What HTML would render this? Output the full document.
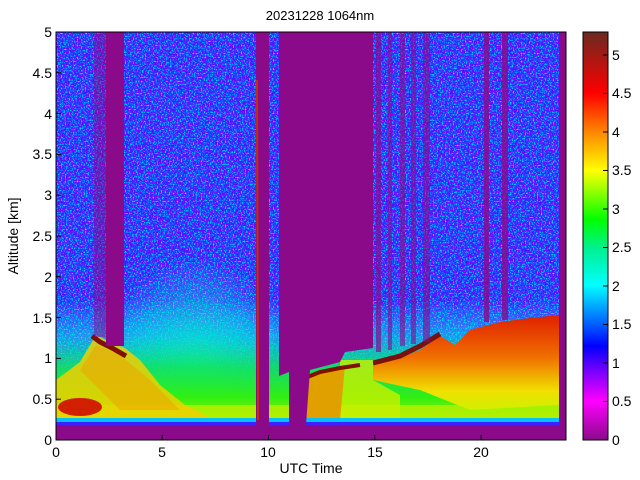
<!DOCTYPE html>
<html><head><meta charset="utf-8"><style>
body{margin:0;background:#fff;}
svg{display:block;font-family:"Liberation Sans",sans-serif;}
</style></head><body>
<svg width="640" height="480" viewBox="0 0 640 480">
<defs>
<filter id="nz" x="0" y="0" width="100%" height="100%" color-interpolation-filters="sRGB">
<feTurbulence type="fractalNoise" baseFrequency="0.75" numOctaves="1" seed="3" result="t"/>
<feColorMatrix in="t" type="matrix" values="-2 0 0 0 1.2  3.5 0 0 0 -1.55  0 0 0 0 1  0 0 0 0 1"/>
</filter>
<linearGradient id="bl" x1="0" y1="0" x2="0" y2="1">
<stop offset="0" stop-color="#00ffff" stop-opacity="0"/>
<stop offset="0.3" stop-color="#00f0e0" stop-opacity="0.55"/>
<stop offset="0.55" stop-color="#10e860" stop-opacity="0.9"/>
<stop offset="0.8" stop-color="#30f010"/>
<stop offset="1" stop-color="#b0f000"/>
</linearGradient>
<radialGradient id="gr" cx="0.5" cy="0.7" r="0.6">
<stop offset="0" stop-color="#10f0a0" stop-opacity="0.75"/>
<stop offset="0.6" stop-color="#00f0d0" stop-opacity="0.4"/>
<stop offset="1" stop-color="#00f0e0" stop-opacity="0"/>
</radialGradient>
<linearGradient id="rl" x1="0" y1="0" x2="0" y2="1">
<stop offset="0" stop-color="#e02000"/>
<stop offset="0.45" stop-color="#f07000"/>
<stop offset="0.8" stop-color="#f0e000"/>
<stop offset="1" stop-color="#d0f000"/>
</linearGradient>
<linearGradient id="cb" x1="0" y1="1" x2="0" y2="0">
<stop offset="0" stop-color="#8a0a8a"/>
<stop offset="0.095" stop-color="#ff00ff"/>
<stop offset="0.19" stop-color="#5000ff"/>
<stop offset="0.23" stop-color="#0000ff"/>
<stop offset="0.285" stop-color="#0060ff"/>
<stop offset="0.38" stop-color="#00ffff"/>
<stop offset="0.47" stop-color="#00f090"/>
<stop offset="0.54" stop-color="#00ff00"/>
<stop offset="0.66" stop-color="#ffff00"/>
<stop offset="0.76" stop-color="#ff8000"/>
<stop offset="0.85" stop-color="#ff0000"/>
<stop offset="1" stop-color="#6a2a20"/>
</linearGradient>
</defs>
<text x="320" y="20" font-size="13" text-anchor="middle">20231228 1064nm</text>
<rect x="56" y="32" width="510" height="408" fill="#8a0a8a"/>
<rect x="56" y="32" width="503" height="390" filter="url(#nz)"/>
<ellipse cx="195" cy="330" rx="80" ry="90" fill="url(#gr)"/>
<rect x="56" y="300" width="503" height="122" fill="url(#bl)"/>
<rect x="56" y="405" width="503" height="17" fill="#b8f000" opacity="0.8"/>
<polygon points="56,380 80,362 96,335 110,342 125,348 140,360 160,385 185,405 215,420 56,420" fill="#f0d000" opacity="0.85"/>
<polygon points="80,370 96,345 120,355 150,380 180,410 120,410" fill="#f0a000" opacity="0.5"/>
<ellipse cx="80" cy="407" rx="22" ry="9" fill="#d02000"/>
<polyline points="92,336 100,342 112,348 126,356" stroke="#801000" stroke-width="5" fill="none"/>
<polygon points="373,365 400,358 420,350 440,336 455,345 470,330 500,322 530,318 559,315 559,405 470,410 420,390 373,380" fill="url(#rl)"/>
<polyline points="373,363 400,356 420,346 440,334" stroke="#7a1010" stroke-width="5" fill="none"/>
<polygon points="340,360 373,360 373,380 400,395 400,420 340,420" fill="#c8f000" opacity="0.8"/>
<polygon points="300,378 345,365 340,420 300,420" fill="#e0a000"/>
<polyline points="305,378 320,372 340,368 360,365" stroke="#801000" stroke-width="4" fill="none"/>
<rect x="56" y="418" width="503" height="4" fill="#00c0ff"/>
<rect x="56" y="422" width="503" height="3" fill="#4020ff"/>
<rect x="56" y="425" width="510" height="15" fill="#8a0a8a"/>
<rect x="559" y="32" width="7" height="408" fill="#8a0a8a"/>
<polygon points="279,32 373,32 373,348 345,352 340,362 310,370 306,425 289,425 289,372 279,376" fill="#8a0a8a"/>
<rect x="256" y="32" width="13" height="393" fill="#8a0a8a"/>
<line x1="257" y1="80" x2="258" y2="420" stroke="#c03000" stroke-width="2"/>
<rect x="106" y="32" width="18" height="314" fill="#8a0a8a"/>
<rect x="94" y="32" width="12" height="305" fill="#8a0a8a" opacity="0.5"/>
<rect x="376" y="32" width="5" height="320" fill="#8a0a8a" opacity="0.7"/>
<rect x="388" y="32" width="4" height="318" fill="#8a0a8a" opacity="0.6"/>
<rect x="400" y="32" width="5" height="314" fill="#8a0a8a" opacity="0.6"/>
<rect x="411" y="32" width="5" height="312" fill="#8a0a8a" opacity="0.6"/>
<rect x="423" y="32" width="7" height="310" fill="#8a0a8a" opacity="0.6"/>
<rect x="484" y="32" width="5" height="290" fill="#8a0a8a" opacity="0.8"/>
<rect x="502" y="32" width="6" height="288" fill="#8a0a8a" opacity="0.8"/>
<rect x="56" y="32" width="510" height="408" fill="none" stroke="#000" stroke-width="1"/>
<g stroke="#000" stroke-width="1">
<line x1="162.25" y1="440" x2="162.25" y2="435"/><line x1="268.5" y1="440" x2="268.5" y2="435"/><line x1="374.75" y1="440" x2="374.75" y2="435"/><line x1="481" y1="440" x2="481" y2="435"/>
<line x1="56" y1="399.2" x2="61" y2="399.2"/><line x1="56" y1="358.4" x2="61" y2="358.4"/><line x1="56" y1="317.6" x2="61" y2="317.6"/><line x1="56" y1="276.8" x2="61" y2="276.8"/><line x1="56" y1="236" x2="61" y2="236"/><line x1="56" y1="195.2" x2="61" y2="195.2"/><line x1="56" y1="154.4" x2="61" y2="154.4"/><line x1="56" y1="113.6" x2="61" y2="113.6"/><line x1="56" y1="72.8" x2="61" y2="72.8"/>
</g>
<g font-size="14" text-anchor="middle">
<text x="56" y="457">0</text><text x="162" y="457">5</text><text x="268" y="457">10</text><text x="375" y="457">15</text><text x="481" y="457">20</text>
<text x="311" y="473">UTC Time</text>
</g>
<g font-size="14" text-anchor="end">
<text x="52" y="445">0</text><text x="52" y="404">0.5</text><text x="52" y="363">1</text><text x="52" y="323">1.5</text><text x="52" y="282">2</text><text x="52" y="241">2.5</text><text x="52" y="200">3</text><text x="52" y="159">3.5</text><text x="52" y="119">4</text><text x="52" y="78">4.5</text><text x="52" y="37">5</text>
</g>
<text transform="translate(18,236) rotate(-90)" font-size="14" text-anchor="middle">Altitude [km]</text>
<rect x="583" y="32" width="25" height="408" fill="url(#cb)" stroke="#000" stroke-width="1"/>
<g stroke="#000">
<line x1="603" y1="363" x2="608" y2="363"/><line x1="603" y1="286" x2="608" y2="286"/><line x1="603" y1="209" x2="608" y2="209"/><line x1="603" y1="132" x2="608" y2="132"/><line x1="603" y1="55" x2="608" y2="55"/>
<line x1="603" y1="401.5" x2="608" y2="401.5"/><line x1="603" y1="324.5" x2="608" y2="324.5"/><line x1="603" y1="247.5" x2="608" y2="247.5"/><line x1="603" y1="170.5" x2="608" y2="170.5"/><line x1="603" y1="93.5" x2="608" y2="93.5"/>
</g>
<g font-size="14">
<text x="612" y="445">0</text><text x="612" y="406">0.5</text><text x="612" y="368">1</text><text x="612" y="329">1.5</text><text x="612" y="291">2</text><text x="612" y="252">2.5</text><text x="612" y="214">3</text><text x="612" y="175">3.5</text><text x="612" y="137">4</text><text x="612" y="98">4.5</text><text x="612" y="60">5</text>
</g>
</svg>
</body></html>
